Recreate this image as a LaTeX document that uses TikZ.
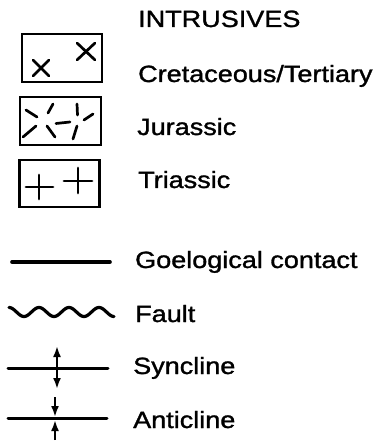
\documentclass[tikz,border=0pt]{standalone}
\usepackage{fontspec}
\usepackage{graphicx}
\setmainfont{Liberation Sans}
\newfontfamily\legfont[FakeBold=1.2]{Liberation Sans}
\usetikzlibrary{arrows.meta}
\newcommand{\legtext}[1]{\scalebox{1.15}[1]{#1}}
\tikzset{
  lbl/.style={anchor=base west, inner sep=0pt, font=\legfont\fontsize{23.5}{26}\selectfont},
  boxframe/.style={draw, line width=2.8pt},
  mark stroke/.style={line width=2.7pt, line cap=round},
  thickline/.style={line width=3.6pt, line cap=round},
  foldline/.style={line width=3pt, line cap=round},
  foldaxis/.style={line width=2.3pt},
  tip/.style={-{Latex[length=11pt,width=8pt]}},
}
\begin{document}
\begin{tikzpicture}[x=1pt,y=-1pt]
\useasboundingbox (0,0) rectangle (386,443);
% title
\node[lbl] (title) at (138,27) {\legtext{INTRUSIVES}};
% Cretaceous/Tertiary box
\node[boxframe, minimum width=80pt, minimum height=48pt, inner sep=0pt] (kt) at (62,58) {};
\draw[mark stroke] (33,60) -- (49,76) (33,76) -- (49,60);
\draw[mark stroke] (77,43) -- (95,60) (77,60) -- (95,43);
\node[lbl] (ktl) at (138,82) {\legtext{Cretaceous/Tertiary}};
% Jurassic box
\node[boxframe, minimum width=81pt, minimum height=48pt, inner sep=0pt] (j) at (60.5,121) {};
\draw[mark stroke] (26,110) -- (37,117);
\draw[mark stroke] (48,113) -- (53,104);
\draw[mark stroke] (23,137) -- (36,126);
\draw[mark stroke] (47,126) -- (55,137);
\draw[mark stroke] (56,123.5) -- (70,122);
\draw[mark stroke] (77,104) -- (77.5,115);
\draw[mark stroke] (84,120) -- (93,114);
\draw[mark stroke] (73,139) -- (77,126);
\node[lbl] (jl) at (137,135) {\legtext{Jurassic}};
% Triassic box
\node[boxframe, minimum width=80pt, minimum height=47pt, inner sep=0pt] (tr) at (59.5,183.5) {};
\draw[mark stroke] (26,187) -- (53,187) (39,175) -- (39,199);
\draw[mark stroke] (64,181) -- (92,181) (78,168) -- (78,193);
\node[lbl] (trl) at (138,188) {\legtext{Triassic}};
% geological contact
\coordinate (c1) at (12,262);
\coordinate (c2) at (110,262);
\draw[thickline] (c1) -- (c2);
\node[lbl] (cl) at (135,268) {\legtext{Goelogical contact}};
% fault
\draw[line width=3.2pt, line cap=round] plot[domain=0:105, samples=120] ({9+\x},{312-4.5*cos(12*\x)});
\node[lbl] (fl) at (135,322) {\legtext{Fault}};
% syncline
\coordinate (s1) at (8,368);
\coordinate (s2) at (108,368);
\coordinate (sm) at (57,368);
\coordinate (st) at (57,346);
\coordinate (sb) at (57,389);
\draw[foldline] (s1) -- (s2);
\draw[foldaxis, tip] (sm) -- (st);
\draw[foldaxis, tip] (sm) -- (sb);
\node[lbl] (sl) at (133,374) {\legtext{Syncline}};
% anticline
\coordinate (a1) at (8,418);
\coordinate (a2) at (107,418);
\coordinate (at) at (55,397);
\coordinate (atip) at (55,417);
\coordinate (ab) at (55,440);
\coordinate (abtip) at (55,420);
\draw[foldline] (a1) -- (a2);
\draw[foldaxis, tip] (at) -- (atip);
\draw[foldaxis, tip] (ab) -- (abtip);
\node[lbl] (al) at (133,428) {\legtext{Anticline}};
\end{tikzpicture}
\end{document}
